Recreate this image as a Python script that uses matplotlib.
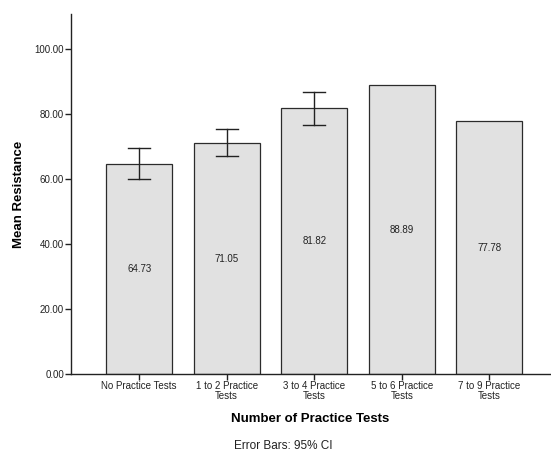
import numpy as np
import matplotlib
matplotlib.use("Agg")
import matplotlib.pyplot as plt

plt.rcParams['font.family'] = ['Liberation Sans', 'DejaVu Sans']

categories = ["No Practice Tests", "1 to 2 Practice\nTests", "3 to 4 Practice\nTests",
              "5 to 6 Practice\nTests", "7 to 9 Practice\nTests"]
means = [64.73, 71.05, 81.82, 88.89, 77.78]
# 95% CI bounds (None where no interval was drawn)
ci_low = [60.0, 67.0, 76.7, None, None]
ci_high = [69.5, 75.4, 86.9, None, None]
yticks = [0, 20, 40, 60, 80, 100]

fig = plt.figure(figsize=(5.51, 4.62), dpi=100)
ax = fig.add_axes([0.129, 0.1905, 0.869, 0.779])

x = np.arange(len(categories))
ax.bar(x, means, width=0.754, color="#e1e1e1", edgecolor="#2b2b2b", linewidth=0.9, zorder=2)

for xi, lo, hi in zip(x, ci_low, ci_high):
    if lo is None:
        continue
    ax.plot([xi, xi], [lo, hi], color="#222222", lw=1.0, zorder=3)
    for yv in (lo, hi):
        ax.plot([xi - 0.125, xi + 0.125], [yv, yv], color="#222222", lw=1.0, zorder=3)

for xi, m in zip(x, means):
    ax.text(xi, m / 2, f"{m:.2f}", ha="center", va="center", fontsize=7, color="#222222", zorder=4)

ax.set_xlim(-0.777, 4.69)
ax.set_ylim(0, 110.8)
ax.set_yticks(yticks)
ax.set_yticklabels([f"{v:.2f}" for v in yticks], fontsize=7, color="#222222")
ax.set_xticks(x)
ax.set_xticklabels(categories, fontsize=7, color="#222222", linespacing=0.95)
ax.tick_params(axis="both", length=4, width=1, color="#222222", pad=1)

for side in ("top", "right"):
    ax.spines[side].set_visible(False)
for side in ("left", "bottom"):
    ax.spines[side].set_color("#222222")
    ax.spines[side].set_linewidth(1)

ax.set_ylabel("Mean Resistance", fontsize=9.5, fontweight="bold", labelpad=7)
ax.set_xlabel("Number of Practice Tests", fontsize=9.5, fontweight="bold", labelpad=9)
fig.text(0.514, 0.035, "Error Bars: 95% CI", ha="center", va="center", fontsize=8.5, color="#222222")

fig.savefig("out.png", dpi=100)
